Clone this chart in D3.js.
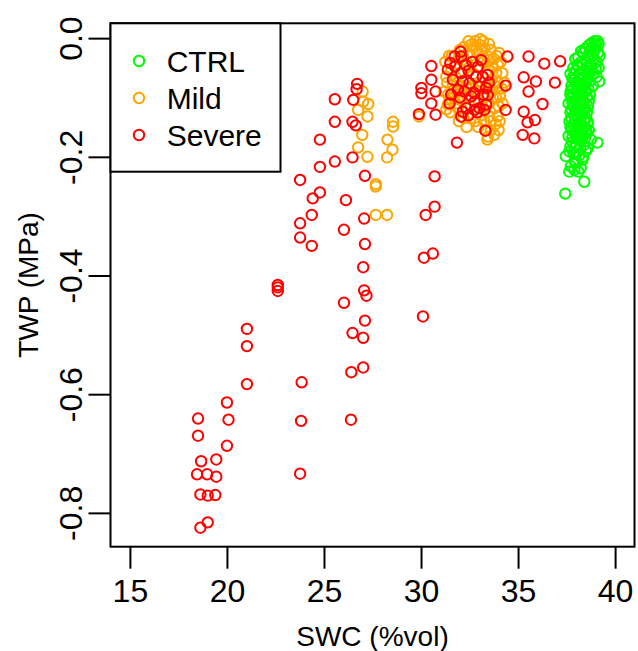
<!DOCTYPE html>
<html><head><meta charset="utf-8">
<script src="https://cdn.jsdelivr.net/npm/d3@7"></script>
<style>
html,body{margin:0;padding:0;background:#fff;}
svg{display:block;font-family:"Liberation Sans",Arial,sans-serif;}
</style></head>
<body>
<svg id="chart" width="638" height="651"></svg>
<script>
// ---- data ----
const seriesNames = ["CTRL", "Mild", "Severe"];
const seriesColors = ["#00FF00", "#FFA500", "#FF0000"];
const xTicks = [15, 20, 25, 30, 35, 40];
const yTicks = [0, -0.2, -0.4, -0.6, -0.8];
const xLabel = "SWC (%vol)";
const yLabel = "TWP (MPa)";

// [SWC, TWP]
const ctrlPoints = [
  [39.10,-0.005],[39.15,-0.010],[39.00,-0.012],[38.95,-0.020],[39.12,-0.025],[38.85,-0.015],[38.70,-0.022],
  [38.60,-0.030],[38.90,-0.035],[39.05,-0.040],[38.50,-0.040],[38.30,-0.045],[38.10,-0.032],[37.95,-0.035],
  [38.75,-0.045],[39.15,-0.050],[38.40,-0.055],[38.20,-0.060],[38.00,-0.055],[38.90,-0.060],[39.05,-0.065],
  [38.60,-0.060],[37.85,-0.050],[39.18,-0.073],[37.90,-0.070],[38.10,-0.075],[38.30,-0.070],[38.50,-0.075],
  [38.70,-0.072],[37.80,-0.085],[38.00,-0.090],[38.20,-0.085],[38.45,-0.090],[38.62,-0.085],[37.75,-0.100],
  [37.95,-0.105],[38.15,-0.100],[38.35,-0.105],[38.55,-0.100],[37.85,-0.115],[38.05,-0.120],[38.25,-0.115],
  [38.45,-0.120],[37.70,-0.125],[37.90,-0.130],[38.10,-0.135],[38.30,-0.130],[38.50,-0.135],[37.65,-0.140],
  [37.85,-0.145],[38.05,-0.150],[38.25,-0.145],[38.45,-0.150],[37.75,-0.155],[37.95,-0.160],[38.15,-0.160],
  [38.35,-0.165],[38.55,-0.160],[38.65,-0.155],[38.75,-0.171],[39.09,-0.176],[37.64,-0.191],[37.46,-0.199],
  [37.98,-0.208],[38.32,-0.205],[37.72,-0.216],[37.64,-0.225],[37.90,-0.222],[38.23,-0.219],[38.41,-0.242],
  [37.43,-0.262],[38.00,-0.180],[38.20,-0.185],[37.80,-0.175],[38.40,-0.180],[37.70,-0.060],[37.75,-0.080],
  [38.55,-0.050],[38.80,-0.030],[38.35,-0.025],[37.60,-0.110],[37.60,-0.165],[38.60,-0.115],[38.00,-0.195],
  [38.10,-0.170],[37.90,-0.185],[38.50,-0.190],[37.70,-0.095],
  [38.95,-0.005],[39.20,-0.030],[38.80,-0.008],[38.65,-0.012],[38.45,-0.018],[38.25,-0.022],[38.05,-0.045],
  [38.65,-0.048],[39.00,-0.052],[38.80,-0.055],[38.25,-0.040],[37.90,-0.060],[37.80,-0.068],[38.00,-0.078],
  [38.20,-0.068],[38.40,-0.078],[38.60,-0.068],[38.85,-0.080],[37.70,-0.090],[37.90,-0.095],[38.10,-0.092],
  [38.30,-0.095],[38.50,-0.090],[38.70,-0.095],[37.80,-0.108],[38.00,-0.110],[38.20,-0.108],[38.40,-0.110],
  [38.65,-0.105],[37.75,-0.120],[37.95,-0.122],[38.15,-0.125],[38.35,-0.120],[38.55,-0.125],[37.75,-0.135],
  [37.95,-0.140],[38.20,-0.140],[38.40,-0.138],[38.60,-0.142],[37.70,-0.150],[37.90,-0.152],[38.10,-0.155],
  [38.30,-0.152],[38.50,-0.155],[37.80,-0.168],[38.00,-0.168],[38.25,-0.172],[38.45,-0.168],[37.70,-0.182],
  [37.85,-0.195],[38.15,-0.198],[38.35,-0.200],[38.60,-0.185],[37.95,-0.210],[38.10,-0.225]
];
const mildPoints = [
  [26.99,-0.090],[27.02,-0.107],[27.28,-0.111],[26.76,-0.121],[27.24,-0.132],[28.56,-0.141],[28.56,-0.149],
  [26.97,-0.163],[28.27,-0.171],[26.76,-0.184],[28.53,-0.188],[27.24,-0.200],[28.25,-0.201],[27.67,-0.246],
  [27.67,-0.250],[27.67,-0.298],[28.25,-0.298],[29.89,-0.132],
  [31.30,-0.065],[31.38,-0.112],[31.47,-0.101],[31.64,-0.079],[31.99,-0.059],[32.59,-0.011],[33.01,-0.011],
  [33.27,-0.017],[32.41,-0.025],[33.52,-0.037],[33.69,-0.048],[33.87,-0.059],[33.78,-0.079],[33.87,-0.101],
  [33.78,-0.118],[33.52,-0.132],[33.44,-0.166],[33.78,-0.163],[31.90,-0.118],[32.50,-0.048],[32.84,-0.020],
  [32.24,-0.045],[34.02,-0.025],[34.19,-0.059],[34.07,-0.098],[33.94,-0.132],[33.42,-0.171],[31.45,-0.110],
  [31.20,-0.090],[31.25,-0.040],[31.60,-0.030],[31.80,-0.045],[32.00,-0.020],[32.20,-0.015],[32.80,-0.005],
  [33.20,-0.005],[33.40,-0.030],[33.60,-0.020],[33.90,-0.030],[34.10,-0.040],[34.30,-0.075],[34.20,-0.110],
  [33.20,-0.040],[33.00,-0.050],[32.70,-0.060],[32.30,-0.070],[32.00,-0.090],[31.70,-0.100],[32.40,-0.100],
  [32.90,-0.090],[33.60,-0.090],[33.30,-0.100],[33.10,-0.130],[32.80,-0.140],[33.60,-0.140],[34.00,-0.155],
  [33.30,-0.155],[31.50,-0.125],[32.20,-0.135],[34.05,-0.140],
  [31.35,-0.075],[31.55,-0.055],[31.75,-0.065],[31.95,-0.035],[32.15,-0.030],[32.35,-0.040],[32.55,-0.030],
  [32.70,-0.015],[32.95,-0.025],[33.15,-0.020],[33.35,-0.045],[33.55,-0.055],[33.75,-0.035],[33.95,-0.045],
  [34.15,-0.085],[33.95,-0.075],[33.65,-0.070],[33.45,-0.080],[33.15,-0.075],[32.85,-0.080],[32.60,-0.085],
  [32.35,-0.085],[32.10,-0.080],[31.85,-0.075],[31.60,-0.090],[31.40,-0.095],[31.80,-0.110],[32.05,-0.105],
  [32.55,-0.115],[32.95,-0.105],[33.15,-0.115],[33.50,-0.110],[33.70,-0.100],[34.00,-0.115],[33.85,-0.145],
  [33.60,-0.155],[33.25,-0.140],[32.95,-0.150],[32.55,-0.135],[32.35,-0.150],[31.95,-0.140],[33.50,-0.010],
  [32.45,-0.005],[33.05,-0.002],[31.45,-0.030],[31.30,-0.120]
];
const severePoints = [
  [21.03,-0.490],[21.03,-0.519],[21.03,-0.583],[23.85,-0.580],[23.82,-0.645],[23.77,-0.734],[18.51,-0.641],
  [18.51,-0.670],[20.00,-0.614],[20.08,-0.643],[20.00,-0.687],[18.67,-0.713],[19.45,-0.710],[18.46,-0.735],
  [18.98,-0.735],[19.45,-0.739],[18.63,-0.769],[19.01,-0.771],[19.40,-0.770],[18.63,-0.825],[19.01,-0.816],
  [25.56,-0.103],[25.56,-0.141],[24.79,-0.171],[25.56,-0.208],[24.79,-0.217],[23.77,-0.239],[24.79,-0.260],
  [24.42,-0.270],[24.37,-0.298],[23.77,-0.312],[23.77,-0.336],[24.37,-0.350],[22.62,-0.416],[22.62,-0.420],
  [22.62,-0.426],
  [26.71,-0.077],[26.68,-0.086],[26.51,-0.104],[26.47,-0.141],[26.64,-0.147],[26.47,-0.201],[27.11,-0.232],
  [26.13,-0.273],[27.07,-0.304],[26.03,-0.323],[27.11,-0.347],[27.02,-0.386],[27.07,-0.425],[27.19,-0.434],
  [26.03,-0.446],[27.11,-0.476],[26.47,-0.497],[27.02,-0.505],[27.02,-0.555],[26.41,-0.563],[26.39,-0.643],
  [30.53,-0.047],[30.53,-0.070],[30.02,-0.084],[30.02,-0.093],[30.75,-0.090],[30.53,-0.110],[30.75,-0.129],
  [29.89,-0.128],[30.70,-0.233],[30.70,-0.284],[30.24,-0.298],[30.61,-0.363],[30.15,-0.370],[30.10,-0.469],
  [31.85,-0.176],[31.47,-0.110],[31.51,-0.042],[31.73,-0.031],[32.04,-0.023],[32.07,-0.031],[31.38,-0.053],
  [31.64,-0.070],[32.07,-0.059],[32.15,-0.073],[31.90,-0.087],[32.24,-0.090],[32.50,-0.076],[32.59,-0.098],
  [32.15,-0.124],[32.07,-0.132],[32.33,-0.118],[32.76,-0.107],[32.93,-0.048],[33.10,-0.037],[32.84,-0.065],
  [33.18,-0.065],[33.44,-0.062],[33.01,-0.082],[33.36,-0.084],[33.44,-0.096],[32.76,-0.121],[33.01,-0.118],
  [33.27,-0.121],[33.36,-0.112],[32.76,-0.093],[33.32,-0.156],
  [31.75,-0.048],[32.30,-0.045],[32.45,-0.055],[32.00,-0.100],[32.45,-0.130],[32.90,-0.125],[33.20,-0.095],
  [33.50,-0.075],[32.65,-0.040],[31.55,-0.095],
  [34.45,-0.031],[34.36,-0.080],[34.36,-0.121],[35.54,-0.031],[36.35,-0.043],[37.17,-0.039],[35.29,-0.066],
  [35.92,-0.073],[35.54,-0.090],[36.90,-0.075],[36.26,-0.111],[35.29,-0.124],[35.49,-0.142],[35.87,-0.138],
  [35.24,-0.163],[35.84,-0.169]
];
const allSeries = [ctrlPoints, mildPoints, severePoints];

// ---- layout ----
const svg = d3.select("#chart");
const L = 110.5, R = 634.5, T = 23.3, B = 546.7;
const x = d3.scaleLinear().domain([14, 41]).range([L, R]);
const y = d3.scaleLinear().domain([-0.857, 0.025]).range([B, T]);

// points
allSeries.forEach((pts, i) => {
  svg.append("g").selectAll("circle").data(pts).join("circle")
    .attr("cx", d => x(d[0])).attr("cy", d => y(d[1])).attr("r", 5.2)
    .attr("fill", "none").attr("stroke", seriesColors[i]).attr("stroke-width", 2);
});

// axes
const xAxis = svg.append("g").attr("transform", `translate(0,${B})`)
  .call(d3.axisBottom(x).tickValues(xTicks).tickSize(22).tickPadding(11).tickFormat(d => String(d)));
xAxis.select(".domain").remove();
xAxis.selectAll("line").attr("stroke", "#000").attr("stroke-width", 2);
xAxis.selectAll("text").attr("font-size", 32).attr("fill", "#000")
  .attr("font-family", '"Liberation Sans",Arial,sans-serif');

const yAxis = svg.append("g").attr("transform", `translate(${L},0)`)
  .call(d3.axisLeft(y).tickValues(yTicks).tickSize(22).tickFormat(d => d.toFixed(1)));
yAxis.select(".domain").remove();
yAxis.selectAll("line").attr("stroke", "#000").attr("stroke-width", 2);
yAxis.selectAll("text").attr("font-size", 32).attr("fill", "#000")
  .attr("font-family", '"Liberation Sans",Arial,sans-serif')
  .attr("x", null).attr("dy", null).attr("text-anchor", "middle")
  .attr("transform", "translate(-29,0) rotate(-90)");

// box
svg.append("rect").attr("x", L).attr("y", T).attr("width", R - L).attr("height", B - T)
  .attr("fill", "none").attr("stroke", "#000").attr("stroke-width", 2);

// axis titles
svg.append("text").attr("x", (L + R) / 2).attr("y", 646).attr("text-anchor", "middle")
  .attr("font-size", 28).attr("fill", "#000").text(xLabel);
svg.append("text").attr("transform", `translate(38,${(T + B) / 2}) rotate(-90)`)
  .attr("text-anchor", "middle").attr("font-size", 28).attr("fill", "#000").text(yLabel);

// legend
const lg = svg.append("g");
lg.append("rect").attr("x", L).attr("y", T).attr("width", 170).attr("height", 148.4)
  .attr("fill", "#fff").attr("stroke", "#000").attr("stroke-width", 2);
const rowY = d3.scalePoint().domain(seriesNames).range([61, 135]);
seriesNames.forEach((n, i) => {
  lg.append("circle").attr("cx", 139).attr("cy", rowY(n)).attr("r", 5.2)
    .attr("fill", "none").attr("stroke", seriesColors[i]).attr("stroke-width", 2);
  lg.append("text").attr("x", 166.7).attr("y", rowY(n)).attr("dy", "0.36em")
    .attr("font-size", 30).attr("fill", "#000").text(n);
});
</script>
</body></html>
